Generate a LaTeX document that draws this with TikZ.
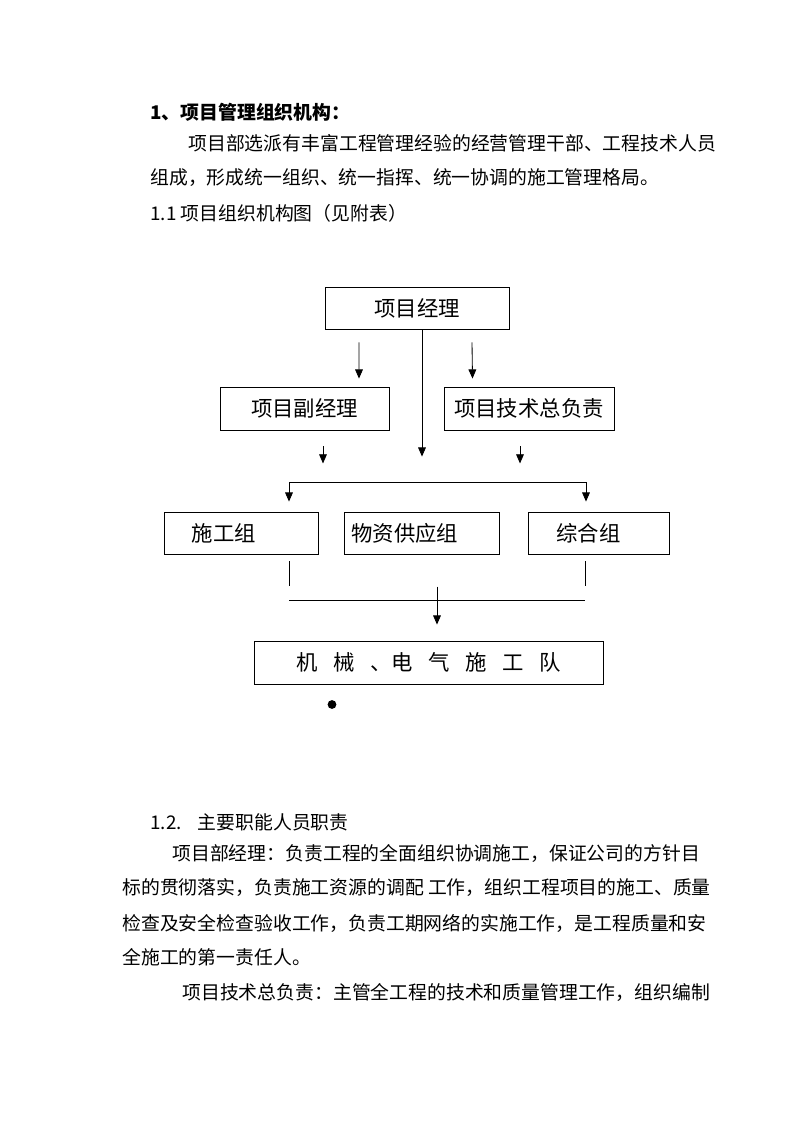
\documentclass[tikz,border=0pt]{standalone}
\usepackage{fontspec}
\setmainfont{Noto Sans CJK SC}
\usetikzlibrary{arrows.meta}
\XeTeXlinebreaklocale "zh"
\XeTeXlinebreakskip=0pt plus 1pt
\newcommand\zgap{\hspace{0.39cm}}

\begin{document}
\begin{tikzpicture}[x=0.025cm,y=-0.025cm,line width=0.6pt,
            >={Triangle[length=6.5pt,width=5.5pt]},
            txt/.style={anchor=west,inner sep=0pt,font=\fontsize{13.4pt}{16pt}\selectfont},
            box/.style={draw,inner sep=0pt,minimum height=1.05cm,font=\fontsize{15.2pt}{18pt}\selectfont}]
            \fill[white](0,0)rectangle(800,1132);
            \useasboundingbox(0,0)rectangle(800,1132);
            \node[txt,font=\fontsize{13.4pt}{16pt}\selectfont\bfseries](h1)at(150,112){1、项目管理组织机构：};
            \node[txt](t1)at(188,143){项目部选派有丰富工程管理经验的经营管理干部、工程技术人员};
            \node[txt](t2)at(150,178){组成，形成统一组织、统一指挥、统一协调的施工管理格局。};
            \node[txt](t3)at(150,213){1.1 项目组织机构图（见附表）};
            \node[box,minimum width=4.6cm](pm)at(417,308){项目经理};
            \node[box,minimum width=4.225cm,minimum height=1.075cm](dep)at(304.5,408.5){项目副经理};
            \node[box,minimum width=4.25cm,minimum height=1.075cm](tech)at(529,408.5){项目技术总负责};
            \node[box,text width=3.85cm,align=left](con)at(241,533){\hspace*{0.7cm}施工组};
            \node[box,text width=3.875cm,align=left](mat)at(422,533){\hspace*{0.175cm}物资供应组};
            \node[box,text width=3.525cm,align=left](syn)at(599,533){\hspace*{0.7cm}综合组};
            \node[box,minimum width=8.71cm,minimum height=1.075cm](team)at(428.8,662.5)
              {机\zgap 械\zgap 、电\zgap 气\zgap 施\zgap 工\zgap 队};
            \draw[->]([shift={(-58,13)}]pm.south)--([shift={(54.5,-8)}]dep.north);
            \draw[->]([shift={(55,13)}]pm.south)--([shift={(-56.5,-8)}]tech.north);
            \draw[->]([shift={(5,0)}]pm.south)--([shift={(0,-55)}]mat.north);
            \draw[->]([shift={(18.5,16)}]dep.south)--([shift={(18.5,33)}]dep.south);
            \draw[->]([shift={(-9,16)}]tech.south)--([shift={(-9,33)}]tech.south);
            \draw[<->]([shift={(48,-10)}]con.north)--++(0,-19)-|([shift={(-13,-10)}]syn.north);
            \draw([shift={(48,7)}]con.south)--([shift={(48,32)}]con.south)
              ([shift={(-14,7)}]syn.south)--([shift={(-14,32)}]syn.south);
            \draw([shift={(48,46)}]con.south)--([shift={(-14,46)}]syn.south);
            \draw[->]([shift={(8.2,-54)}]team.north)--([shift={(8.2,-16)}]team.north);
            \fill(332,704.5)circle(0.11cm);
            \node[txt](s2)at(150,822){1.2.\hspace{0.4cm}主要职能人员职责};
            \node[txt](p1)at(172,853){项目部经理：负责工程的全面组织协调施工，保证公司的方针目};
            \node[txt](p2)at(122,888){标的贯彻落实，负责施工资源的调配 工作，组织工程项目的施工、质量};
            \node[txt](p3)at(122,923){\makebox[14.525cm][s]{检查及安全检查验收工作，负责工期网络的实施工作，是工程质量和安}};
            \node[txt](p4)at(122,957){全施工的第一责任人。};
            \node[txt](p5)at(182,992){项目技术总负责：主管全工程的技术和质量管理工作，组织编制};
          \end{tikzpicture}
\end{document}
